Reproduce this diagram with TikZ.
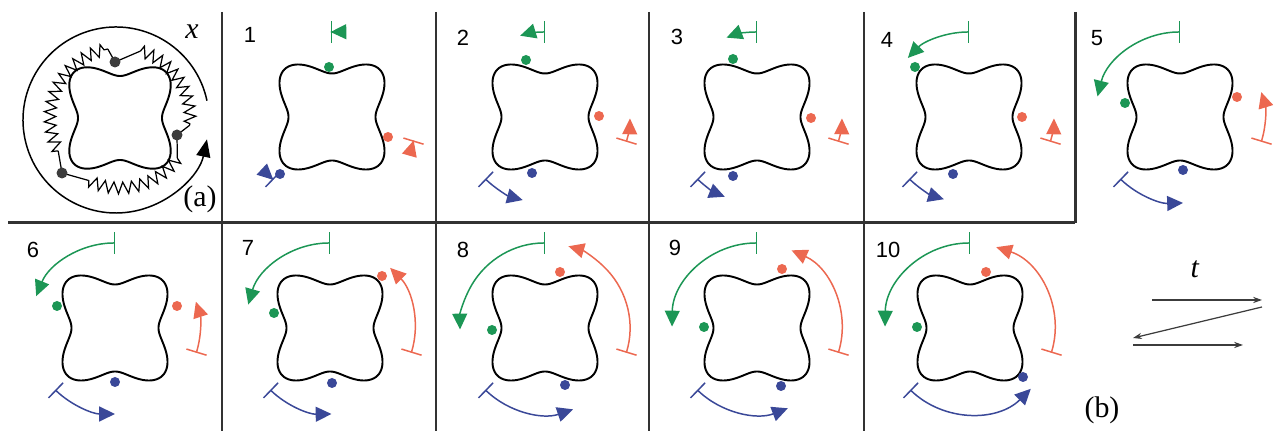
\documentclass[tikz,border=0pt]{standalone}
\usepackage{fontspec}
\setmainfont{Liberation Serif}
\newfontfamily\panelfont{Liberation Sans}
\usetikzlibrary{arrows.meta,decorations.pathmorphing}
\definecolor{grn}{RGB}{28,150,85}
\definecolor{org}{RGB}{236,104,80}
\definecolor{blu}{RGB}{58,72,152}
\definecolor{frame}{RGB}{50,50,50}
\definecolor{bead}{RGB}{60,60,60}

\begin{document}
\begin{tikzpicture}[x=0.02cm,y=0.02cm,>={Stealth[length=5pt,width=3.5pt]},
  wall/.style={line width=1.7pt,draw=frame},
  blob/.style={line width=1.1pt},
  move/.style={line width=0.85pt,{Bar[width=12pt]}-{Triangle[length=9pt,width=8.5pt]}},
  spring/.style={line width=0.7pt,decorate,decoration={zigzag,segment length=5.4pt,amplitude=3.3pt}},
  num/.style={font=\panelfont\fontsize{12.5}{14}\selectfont},
  lab/.style={font=\fontsize{17}{20}\selectfont}]
\useasboundingbox (0,0) rectangle (1276,431);
\draw[wall] (8,208)--(1075,208);
\foreach \x in {222,436,649,864} \draw[wall] (\x,419)--(\x,0);
\draw[wall] (1075,419)--(1075,208);

% (a) membrane with springs
\draw[blob,shift={(120,313)}] plot[domain=1:359,samples=180,smooth cycle,variable=\t]
  (\t:{56*(abs(cos(\t))^3.5+abs(sin(\t))^3.5)^(-1/3.5)*(1-0.25*cos(2*\t)*cos(2*\t))});
\draw[line width=0.85pt,-{Triangle[length=10pt,width=8pt]}] ([shift={(12:93)}]116,311)
  arc[start angle=12,end angle=348,radius=93];
\coordinate (top) at (115,369);
\coordinate (right) at (177,296);
\coordinate (left) at (62,258);
\coordinate (s1) at ([shift={(73:70)}]120,313);
\coordinate (s1e) at ([shift={(-6:70)}]120,313);
\coordinate (s2) at ([shift={(-35:70)}]120,313);
\coordinate (s2e) at ([shift={(-117:70)}]120,313);
\coordinate (s3) at ([shift={(208:70)}]120,313);
\coordinate (s3e) at ([shift={(100:70)}]120,313);
\draw[line width=0.7pt] (top)--(s1) (s1e)--(right)--(s2) (s2e)--(left)--(s3) (s3e)--(top);
\draw[spring] (s1) arc[start angle=73,end angle=-6,radius=70];
\draw[spring] (s2) arc[start angle=-35,end angle=-117,radius=70];
\draw[spring] (s3) arc[start angle=208,end angle=100,radius=70];
\foreach \p in {top,right,left} \fill[bead] (\p) circle (5.5);
\node[lab] (xlab) at (192,399) {\textit{x}};
\node[lab] (alab) at (200,232) {(a)};

% panels 1--10
\foreach \cx/\cy/\n/\nx/\ny/\gx/\gy/\ga/\rx/\ry/\ra/\bx/\by/\ba in {
  332/314/1/250/396/-3/50/91/56/-20/-16/-52/-57/227,
  545/314/2/463/393/-19/57/107/54/1/-1/-13/-56/255,
  757/314/3/677/394/-24/58/111/54/-1/-1/-24/-59/248,
  969/314/4/887/391/-54/50/136/53/0/-1/-16/-57/253,
  1180/314/5/1097/393/-55/14/166/57/20/17/3/-53/272,
  115/103/6/33/181/-58/22/158/62/22/18/0/-54/270,
  330/103/7/248/183/-56/15/164/52/52/45/2/-55/271,
  545/103/8/463/181/-53/-2/181/15/56/74/20/-57/289,
  757/103/9/675/183/-53/1/179/25/59/66/24/-58/291,
  970/103/10/888/181/-53/1/179/16/56/72/53/-49/315}{
  \draw[blob,shift={(\cx,\cy)}] plot[domain=1:359,samples=180,smooth cycle,variable=\t]
    (\t:{58*(abs(cos(\t))^3.5+abs(sin(\t))^3.5)^(-1/3.5)*(1-0.25*cos(2*\t)*cos(2*\t))});
  \node[num] (n\n) at (\nx,\ny) {\n};
  \fill[grn] (\cx+\gx,\cy+\gy) circle (5);
  \fill[org] (\cx+\rx,\cy+\ry) circle (5);
  \fill[blu] (\cx+\bx,\cy+\by) circle (5);
  \draw[move,grn] ([shift={(90:85)}]\cx,\cy) arc[start angle=90,end angle=\ga,radius=85];
  \draw[move,org] ([shift={(-17:85)}]\cx,\cy) arc[start angle=-17,end angle=\ra,radius=85];
  \draw[move,blu] ([shift={(226:86)}]\cx,\cy) arc[start angle=226,end angle=\ba,radius=86];
}

% (b) time order
\coordinate (b1) at (1152,131); \coordinate (b2) at (1262,131);
\coordinate (b3) at (1262,124); \coordinate (b4) at (1133,93);
\coordinate (b5) at (1133,86);  \coordinate (b6) at (1243,86);
\draw[->,line width=0.7pt,bead] (b1)--(b2);
\draw[->,line width=0.7pt,bead] (b3)--(b4);
\draw[->,line width=0.7pt,bead] (b5)--(b6);
\node[lab] (tlab) at (1195,162) {\textit{t}};
\node[lab] (blab) at (1102,21) {(b)};
\end{tikzpicture}
\end{document}
